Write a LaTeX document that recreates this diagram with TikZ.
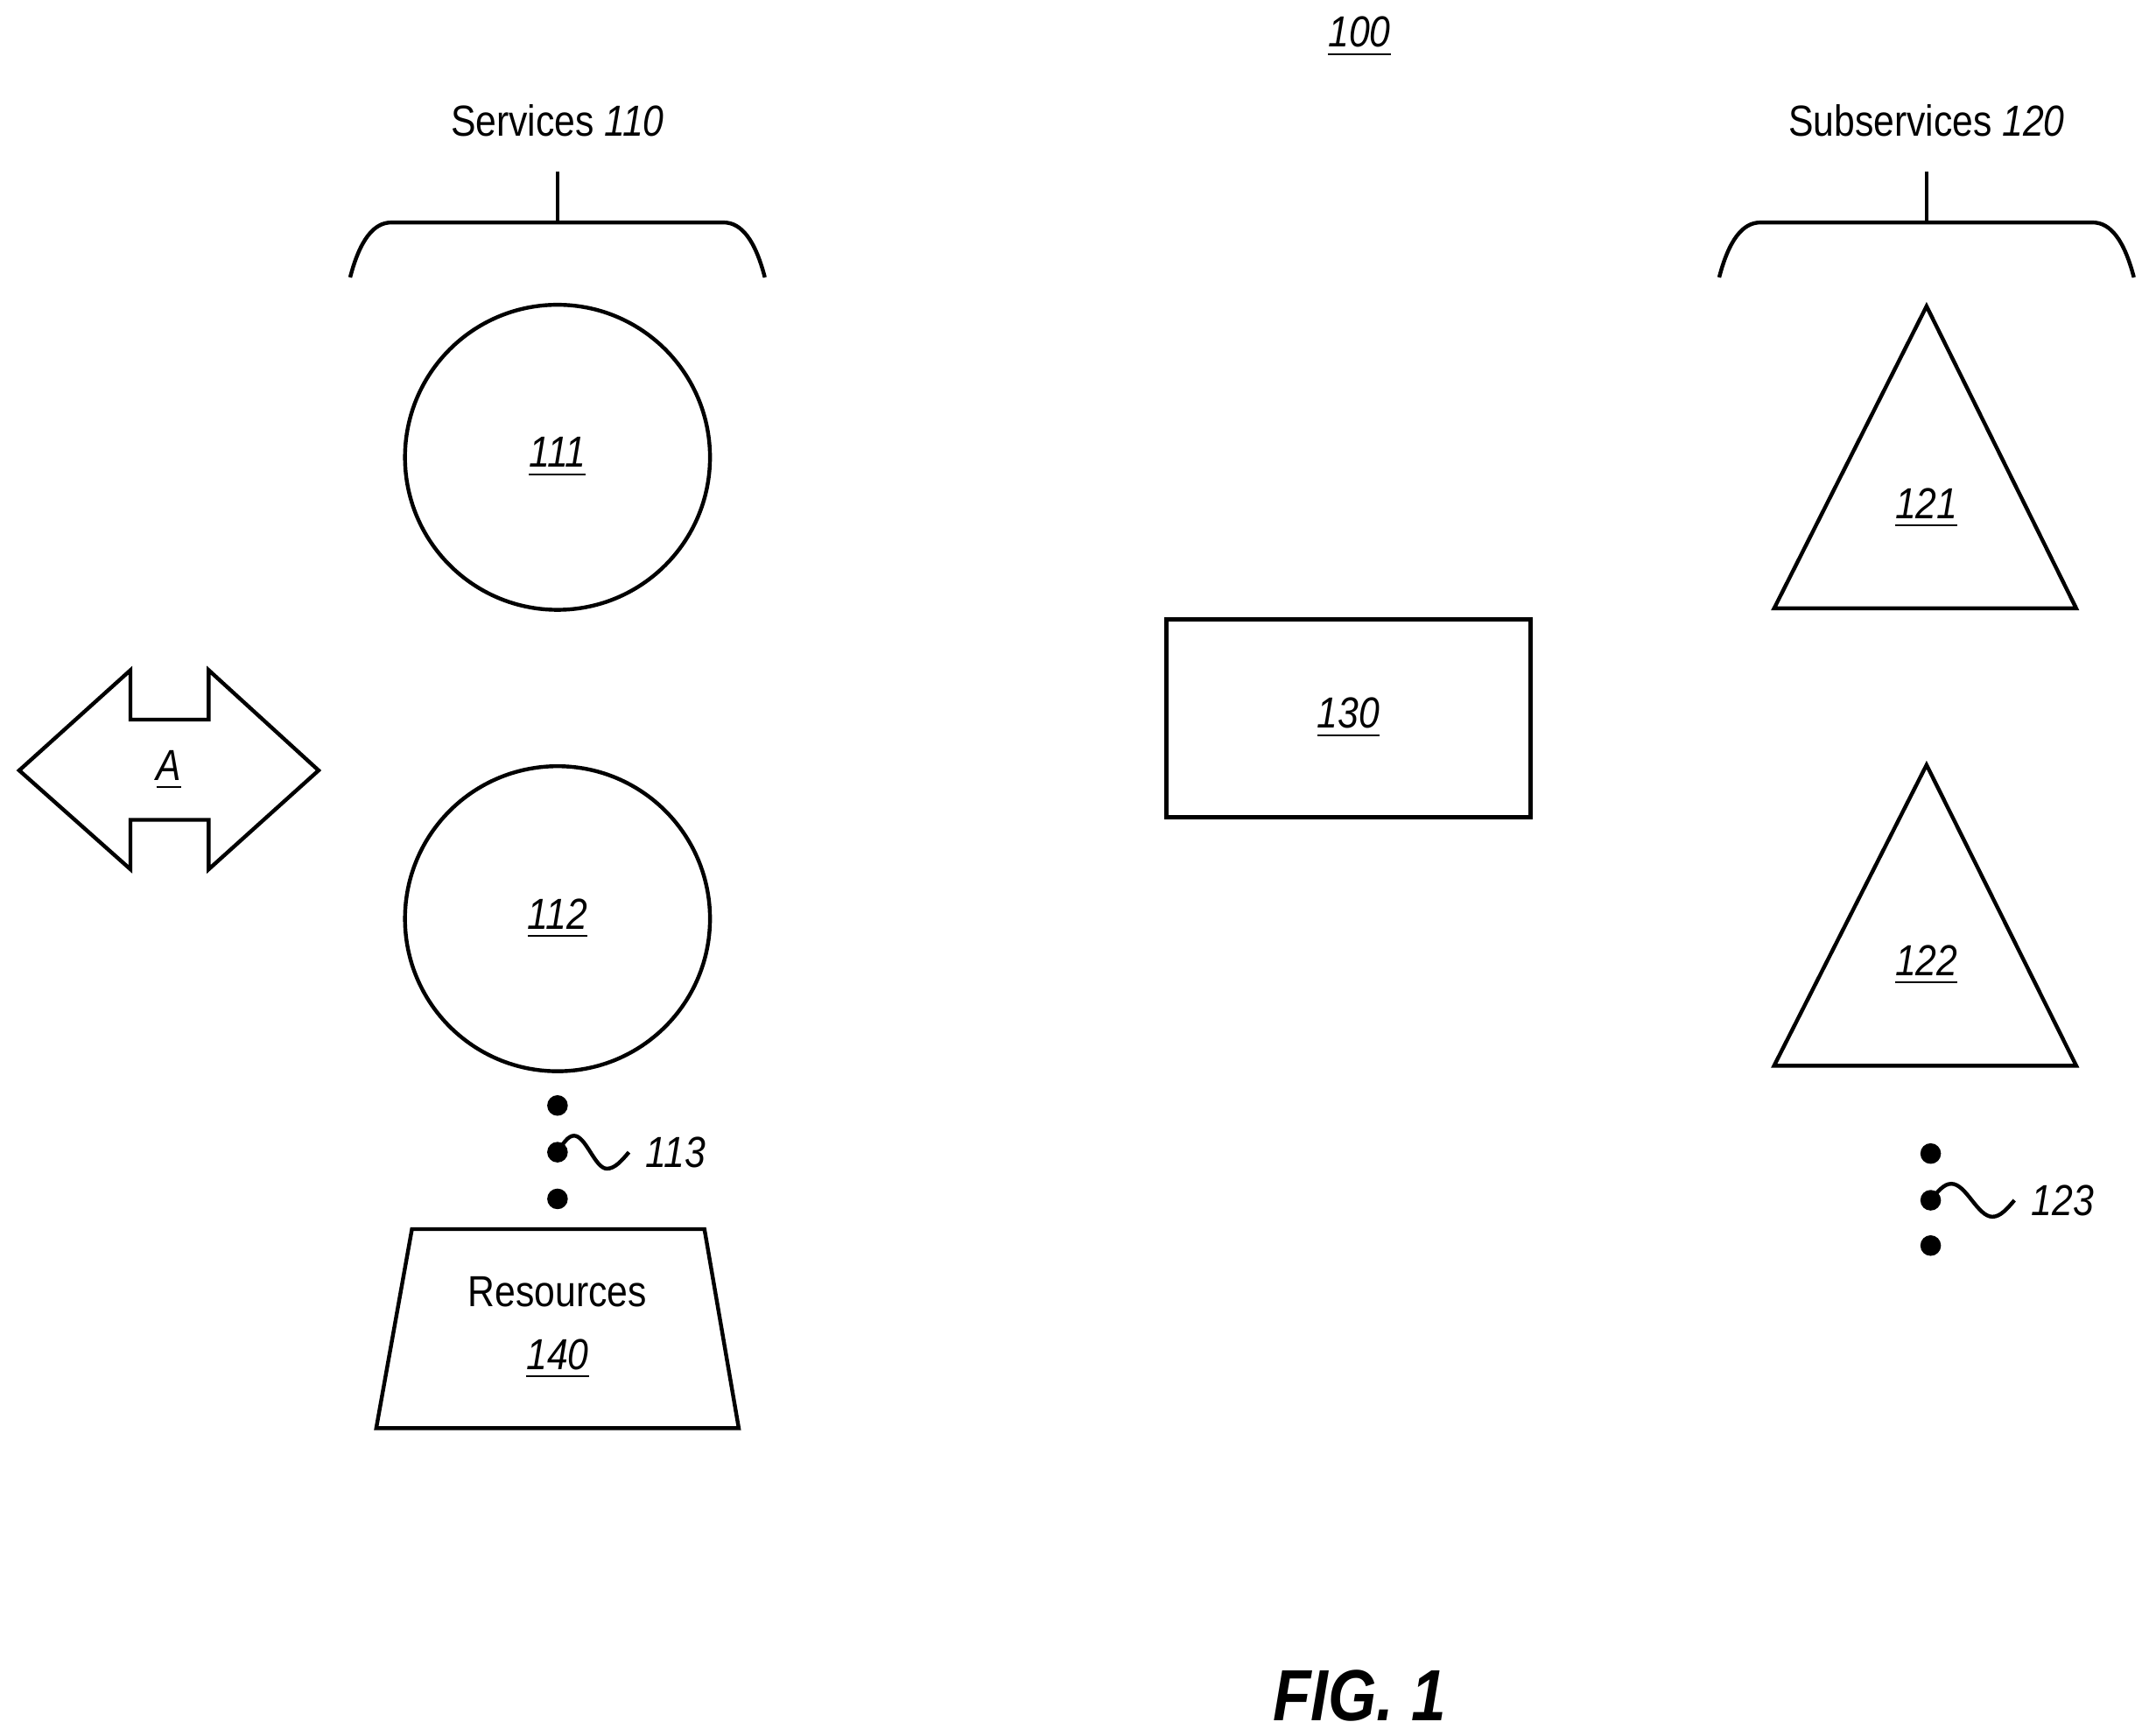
\documentclass[tikz,border=0pt]{standalone}
\usepackage{fontspec}
\setmainfont{Liberation Sans}[FakeStretch=0.86]
\usetikzlibrary{positioning}
\tikzset{
  shape line/.style={draw,thick},
  ref/.style={font=\fontsize{9}{11}\selectfont\itshape},
  dot/.style={circle,fill,inner sep=0pt,minimum size=0.15cm},
}
\newcommand{\refnum}[1]{\underline{\textit{#1}}}
\begin{document}
\begin{tikzpicture}[x=0.01cm,y=-0.01cm,
    every node/.style={font=\fontsize{9}{11}\selectfont}]
  \useasboundingbox (0,0) rectangle (1565,1264);

  \node (fig) at (990,27) {\refnum{100}};

  % Services (left)
  \node (svc) at (406,88) {Services \textit{110}};
  \draw[thick] (406,125) -- (406,162);
  \draw[thick] (255,202) .. controls (262,175) and (272,162) .. (285,162) -- (527,162)
    .. controls (540,162) and (550,175) .. (557,202);
  \node[circle,shape line,minimum size=2.22cm] (s111) at (406,333) {\refnum{111}};
  \node[circle,shape line,minimum size=2.22cm] (s112) at (406,669) {\refnum{112}};
  \node[dot] (d1) at (406,805) {};
  \node[dot] (d2) at (406,839) {};
  \node[dot] (d3) at (406,873) {};
  \node[ref,anchor=west] (l113) at (458,839) {113};
  \draw[thick] (d2.center) sin (418,827) cos (430,839) sin (442,851) cos (l113.west);

  % Resources
  \draw[thick] (300,895) -- (513,895) -- (538,1040) -- (274,1040) -- cycle;
  \node[align=center] (res) at (406,967) {Resources\\[2pt]\refnum{140}};

  % double arrow A
  \draw[thick] (14,561) -- (95,488) -- (95,524) -- (152,524) -- (152,488) -- (232,561)
    -- (152,633) -- (152,597) -- (95,597) -- (95,633) -- cycle;
  \node (a) at (123,561) {\refnum{A}};

  % 130
  \node[shape line,draw,minimum width=2.65cm,minimum height=1.44cm] (b130) at (982,523) {\refnum{130}};

  % Subservices (right)
  \node (sub) at (1403,88) {Subservices \textit{120}};
  \draw[thick] (1403,125) -- (1403,162);
  \draw[thick] (1252,202) .. controls (1259,175) and (1269,162) .. (1282,162) -- (1524,162)
    .. controls (1537,162) and (1547,175) .. (1554,202);
  \draw[thick] (1403,223) -- (1512,443) -- (1292,443) -- cycle;
  \node (t121) at (1403,370) {\refnum{121}};
  \draw[thick] (1403,557) -- (1512,776) -- (1292,776) -- cycle;
  \node (t122) at (1403,703) {\refnum{122}};
  \node[dot] (e1) at (1406,840) {};
  \node[dot] (e2) at (1406,874) {};
  \node[dot] (e3) at (1406,907) {};
  \node[ref,anchor=west] (l123) at (1467,874) {123};
  \draw[thick] (e2.center) sin (1421,862) cos (1436,874) sin (1451,886) cos (l123.west);

  \node[font=\fontsize{15}{18}\selectfont\bfseries\itshape] (cap) at (990,1235) {FIG. 1};
\end{tikzpicture}
\end{document}
